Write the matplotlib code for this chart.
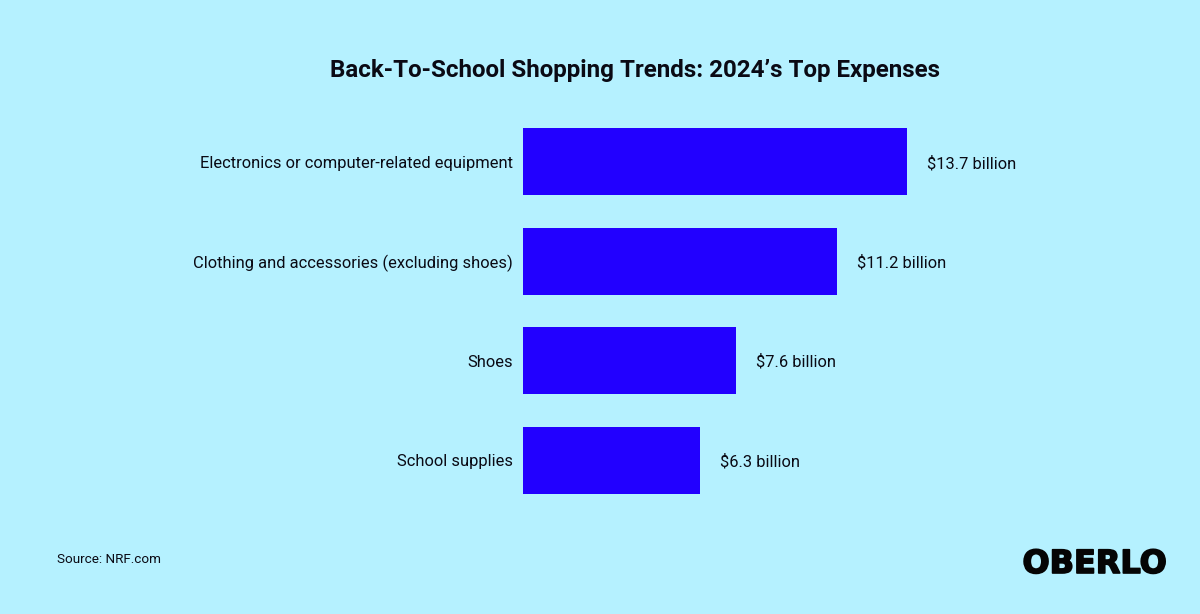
import matplotlib.pyplot as plt
import matplotlib.patheffects as pe

plt.rcParams['font.family'] = ['Roboto', 'DejaVu Sans']

######################################################################
# DATA

categories = [
    "Electronics or computer-related equipment",
    "Clothing and accessories (excluding shoes)",
    "Shoes",
    "School supplies",
]
values = [13.7, 11.2, 7.6, 6.3]
value_labels = ["$13.7 billion", "$11.2 billion", "$7.6 billion", "$6.3 billion"]

BG = "#b5f1ff"
BAR = "#2200ff"
TEXT = "#0a0a14"

######################################################################

fig = plt.figure(figsize=(12, 6.14), dpi=100, facecolor=BG)

# axes spans the bars: x from 523px, y from 112px to 510px
ax = fig.add_axes([523 / 1200, 1 - 510 / 614, 500 / 1200, 398 / 614])
ax.set_facecolor("none")
ax.barh(range(len(values)), values, height=0.675, color=BAR)
ax.set_xlim(0, 500 / (384 / 13.7))
ax.set_ylim(3.5, -0.5)
ax.set_yticks(range(len(categories)), categories)
ax.tick_params(axis='y', length=0, pad=7.2, labelsize=11.9, labelcolor=TEXT)
ax.xaxis.set_visible(False)
for s in ax.spines.values():
    s.set_visible(False)

for i, (v, lab) in enumerate(zip(values, value_labels)):
    ax.annotate(lab, (v, i), xytext=(14.5, 0), textcoords='offset points',
                va='center_baseline', ha='left', fontsize=11.9, color=TEXT)

fig.text(634.5 / 1200, 1 - 68 / 614, "Back-To-School Shopping Trends: 2024\u2019s Top Expenses",
         ha='center', va='center_baseline', fontsize=17.4, fontweight='bold', color=TEXT)
fig.text(57 / 1200, 1 - 558 / 614, "Source: NRF.com", ha='left', va='center_baseline',
         fontsize=9.7, color=TEXT)
# logo lettering: heavy and wide, stroke thickens the bold face
fig.text(1167 / 1200, 1 - 561 / 614, "OBERLO", ha='right', va='center_baseline',
         fontsize=23, fontweight='bold', family='DejaVu Sans', color="#050505",
         path_effects=[pe.withStroke(linewidth=1.2, foreground="#050505")])

fig.savefig("out.png", dpi=100, facecolor=BG)
